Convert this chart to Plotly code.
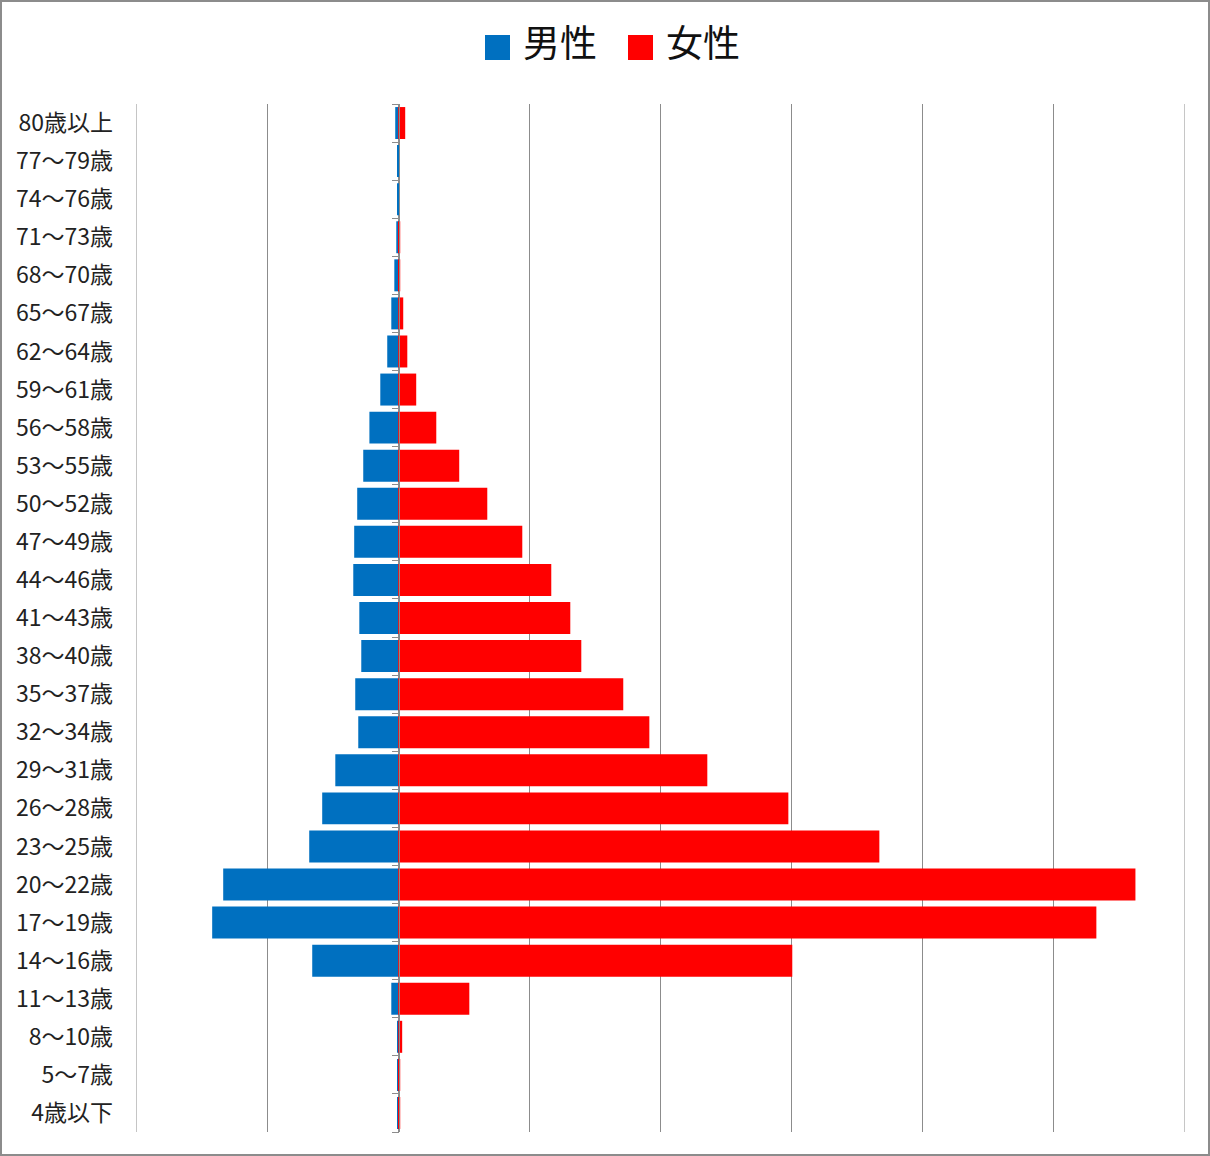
"""Population pyramid — male (left, blue) vs female (right, red) by 3-year age band."""
import plotly.graph_objects as go

AGE_BANDS = [
    "4歳以下", "5～7歳", "8～10歳", "11～13歳", "14～16歳", "17～19歳",
    "20～22歳", "23～25歳", "26～28歳", "29～31歳", "32～34歳", "35～37歳",
    "38～40歳", "41～43歳", "44～46歳", "47～49歳", "50～52歳", "53～55歳",
    "56～58歳", "59～61歳", "62～64歳", "65～67歳", "68～70歳", "71～73歳",
    "74～76歳", "77～79歳", "80歳以上",
]

MALE = [
    0.8, 0.8, 0.8, 5.3, 65.6, 141.9,
    133.5, 67.9, 58.0, 48.0, 30.5, 32.8,
    28.2, 29.7, 34.3, 33.6, 31.3, 26.7,
    22.0, 13.7, 8.4, 5.3, 3.0, 1.5,
    0.8, 0.8, 2.3,
]

FEMALE = [
    1.5, 1.5, 3.0, 54.2, 300.5, 532.4,
    562.2, 366.9, 297.5, 235.7, 191.5, 171.6,
    139.6, 131.2, 116.7, 94.6, 67.9, 46.5,
    29.0, 13.7, 6.9, 3.8, 1.5, 1.5,
    0.0, 0.0, 5.3,
]

X_RANGE = [-200, 600]

MALE_COLOR = "#0070C0"
FEMALE_COLOR = "#FF0000"
GRID_COLOR = "#8c8c8c"
FONT = "Noto Sans CJK JP"

W, H = 1210, 1156
L, R, T, B = 136, 25, 104, 24
PW, PH = W - L - R, H - T - B


def px_x(x):
    return (x - L) / PW


def px_y(y):
    return 1 - (y - T) / PH


fig = go.Figure()

fig.add_trace(go.Bar(
    y=AGE_BANDS, x=[-v for v in MALE], name="男性", orientation="h",
    marker=dict(color=MALE_COLOR, line_width=0), showlegend=False,
))
fig.add_trace(go.Bar(
    y=AGE_BANDS, x=FEMALE, name="女性", orientation="h",
    marker=dict(color=FEMALE_COLOR, line_width=0), showlegend=False,
))
# invisible trace carrying the category axis drawn at zero
fig.add_trace(go.Scatter(
    y=AGE_BANDS, x=[0] * len(AGE_BANDS), yaxis="y2", mode="markers",
    marker=dict(opacity=0), hoverinfo="skip", showlegend=False,
))

fig.update_layout(
    width=W, height=H,
    margin=dict(l=L, r=R, t=T, b=B),
    paper_bgcolor="white", plot_bgcolor="white",
    barmode="relative", bargap=0.16,
    font=dict(family=FONT, color="#222222"),
    xaxis=dict(
        range=X_RANGE, dtick=100, showticklabels=False,
        showgrid=True, gridcolor=GRID_COLOR, gridwidth=1,
        zeroline=False, showline=False, fixedrange=True,
    ),
    yaxis=dict(
        type="category", categoryorder="array", categoryarray=AGE_BANDS,
        range=[-0.5, len(AGE_BANDS) - 0.5],
        showgrid=False, zeroline=False, ticks="", ticklabelstandoff=22,
        tickfont=dict(size=23, family=FONT, color="#222222"),
    ),
    yaxis2=dict(
        type="category", categoryorder="array", categoryarray=AGE_BANDS,
        range=[-0.5, len(AGE_BANDS) - 0.5],
        overlaying="y", anchor="free", side="left", position=px_x(399),
        showticklabels=False, showgrid=False, zeroline=False,
        showline=True, linecolor=GRID_COLOR, linewidth=1,
        ticks="outside", tickson="boundaries", ticklen=7,
        tickcolor=GRID_COLOR, tickwidth=1,
    ),
)

# gridlines at the range edges (plotly clips them)
for xv in X_RANGE:
    fig.add_shape(
        type="line", xref="x", yref="paper", x0=xv, x1=xv, y0=0, y1=1,
        line=dict(color=GRID_COLOR, width=1), layer="below",
    )

# legend drawn by hand to get large swatches
legend_items = [("男性", MALE_COLOR, 485, 523), ("女性", FEMALE_COLOR, 628, 666)]
for label, color, sx, tx in legend_items:
    fig.add_shape(
        type="rect", xref="paper", yref="paper",
        x0=px_x(sx), x1=px_x(sx + 25), y0=px_y(60), y1=px_y(35),
        fillcolor=color, line_width=0,
    )
    fig.add_annotation(
        text=label, xref="paper", yref="paper", x=px_x(tx - 2), y=px_y(41),
        xanchor="left", yanchor="middle", showarrow=False,
        font=dict(size=37, family=FONT, color="#111111"),
    )

# outer chart border
fig.add_shape(
    type="rect", xref="paper", yref="paper",
    x0=px_x(1), x1=px_x(W - 1), y0=px_y(H - 1), y1=px_y(1),
    line=dict(color="#8c8c8c", width=2), fillcolor="rgba(0,0,0,0)",
    layer="above",
)

fig.write_html(
    "out.html",
    config={"displayModeBar": False},
    post_script="document.body.style.margin='0';",
)
